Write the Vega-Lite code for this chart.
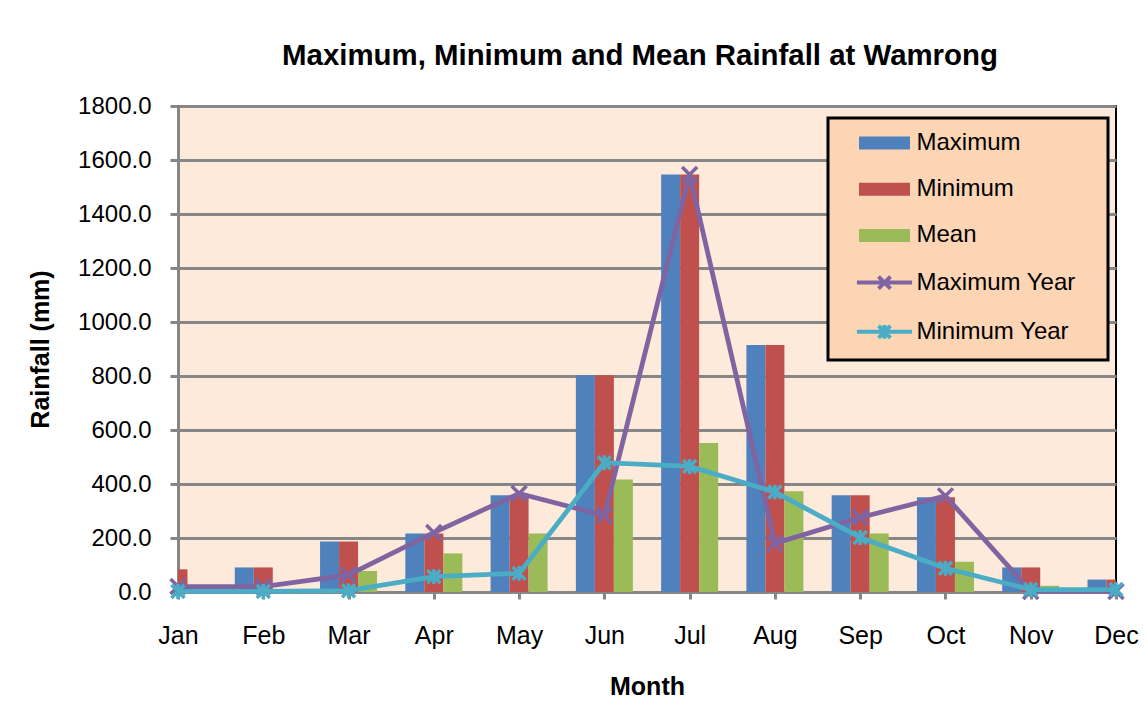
{
  "$schema": "https://vega.github.io/schema/vega-lite/v6.json",
  "width": 938,
  "height": 486,
  "autosize": {"type": "none"},
  "padding": {"left": 178, "top": 106, "right": 32, "bottom": 115},
  "background": "#ffffff",
  "title": {
    "text": "Maximum, Minimum and Mean Rainfall at Wamrong",
    "frame": "group",
    "anchor": "middle",
    "baseline": "alphabetic",
    "offset": 0,
    "dx": -7,
    "font": "Liberation Sans",
    "fontSize": 29.4,
    "fontWeight": "bold",
    "color": "#000000"
  },
  "config": {
    "view": {"fill": "#FDEADA", "stroke": "#000000", "strokeWidth": 2},
    "font": "Liberation Sans",
    "legend": {"strokeWidth": 3}
  },
  "data": {
    "values": [
      {"month": "Jan", "series": "Maximum", "value": 84},
      {"month": "Feb", "series": "Maximum", "value": 91},
      {"month": "Mar", "series": "Maximum", "value": 187},
      {"month": "Apr", "series": "Maximum", "value": 217},
      {"month": "May", "series": "Maximum", "value": 358},
      {"month": "Jun", "series": "Maximum", "value": 803},
      {"month": "Jul", "series": "Maximum", "value": 1546},
      {"month": "Aug", "series": "Maximum", "value": 915},
      {"month": "Sep", "series": "Maximum", "value": 358},
      {"month": "Oct", "series": "Maximum", "value": 351},
      {"month": "Nov", "series": "Maximum", "value": 91},
      {"month": "Dec", "series": "Maximum", "value": 46},
      {"month": "Jan", "series": "Minimum", "value": 84},
      {"month": "Feb", "series": "Minimum", "value": 91},
      {"month": "Mar", "series": "Minimum", "value": 187},
      {"month": "Apr", "series": "Minimum", "value": 217},
      {"month": "May", "series": "Minimum", "value": 358},
      {"month": "Jun", "series": "Minimum", "value": 803},
      {"month": "Jul", "series": "Minimum", "value": 1546},
      {"month": "Aug", "series": "Minimum", "value": 915},
      {"month": "Sep", "series": "Minimum", "value": 358},
      {"month": "Oct", "series": "Minimum", "value": 351},
      {"month": "Nov", "series": "Minimum", "value": 91},
      {"month": "Dec", "series": "Minimum", "value": 46},
      {"month": "Jan", "series": "Mean", "value": 8},
      {"month": "Feb", "series": "Mean", "value": 10},
      {"month": "Mar", "series": "Mean", "value": 78},
      {"month": "Apr", "series": "Mean", "value": 143},
      {"month": "May", "series": "Mean", "value": 217},
      {"month": "Jun", "series": "Mean", "value": 417},
      {"month": "Jul", "series": "Mean", "value": 552},
      {"month": "Aug", "series": "Mean", "value": 373},
      {"month": "Sep", "series": "Mean", "value": 217},
      {"month": "Oct", "series": "Mean", "value": 112},
      {"month": "Nov", "series": "Mean", "value": 23},
      {"month": "Dec", "series": "Mean", "value": 8},
      {"month": "Jan", "series": "Maximum Year", "value": 20},
      {"month": "Feb", "series": "Maximum Year", "value": 20},
      {"month": "Mar", "series": "Maximum Year", "value": 63},
      {"month": "Apr", "series": "Maximum Year", "value": 220},
      {"month": "May", "series": "Maximum Year", "value": 365},
      {"month": "Jun", "series": "Maximum Year", "value": 283},
      {"month": "Jul", "series": "Maximum Year", "value": 1546},
      {"month": "Aug", "series": "Maximum Year", "value": 180},
      {"month": "Sep", "series": "Maximum Year", "value": 276},
      {"month": "Oct", "series": "Maximum Year", "value": 356},
      {"month": "Nov", "series": "Maximum Year", "value": 2},
      {"month": "Dec", "series": "Maximum Year", "value": 2},
      {"month": "Jan", "series": "Minimum Year", "value": 2},
      {"month": "Feb", "series": "Minimum Year", "value": 2},
      {"month": "Mar", "series": "Minimum Year", "value": 5},
      {"month": "Apr", "series": "Minimum Year", "value": 57},
      {"month": "May", "series": "Minimum Year", "value": 69},
      {"month": "Jun", "series": "Minimum Year", "value": 479},
      {"month": "Jul", "series": "Minimum Year", "value": 465},
      {"month": "Aug", "series": "Minimum Year", "value": 370},
      {"month": "Sep", "series": "Minimum Year", "value": 202},
      {"month": "Oct", "series": "Minimum Year", "value": 88},
      {"month": "Nov", "series": "Minimum Year", "value": 9},
      {"month": "Dec", "series": "Minimum Year", "value": 9}
    ]
  },
  "encoding": {
    "x": {
      "field": "month",
      "type": "ordinal",
      "scale": {
        "type": "point",
        "padding": 0,
        "domain": ["Jan", "Feb", "Mar", "Apr", "May", "Jun", "Jul", "Aug", "Sep", "Oct", "Nov", "Dec"]
      },
      "axis": {
        "title": "Month",
        "grid": false,
        "labelAngle": 0,
        "labelOverlap": false,
        "labelFont": "Liberation Sans",
        "labelFontSize": 25,
        "labelColor": "#000000",
        "labelBaseline": "alphabetic",
        "labelPadding": 44,
        "tickSize": 7,
        "tickWidth": 3,
        "tickColor": "#868686",
        "domainColor": "#868686",
        "domainWidth": 3,
        "titleFont": "Liberation Sans",
        "titleFontSize": 25,
        "titleFontWeight": "bold",
        "titleColor": "#000000",
        "titleBaseline": "alphabetic",
        "titleY": 102
      }
    },
    "y": {
      "field": "value",
      "type": "quantitative",
      "scale": {"domain": [0, 1800], "nice": false},
      "axis": {
        "title": "Rainfall (mm)",
        "values": [0, 200, 400, 600, 800, 1000, 1200, 1400, 1600, 1800],
        "format": ".1f",
        "grid": true,
        "gridColor": "#868686",
        "gridWidth": 3,
        "labelFont": "Liberation Sans",
        "labelFontSize": 24,
        "labelColor": "#000000",
        "labelBaseline": "middle",
        "labelPadding": 19,
        "tickSize": 8,
        "tickWidth": 3,
        "tickColor": "#868686",
        "domainColor": "#868686",
        "domainWidth": 3,
        "titleFont": "Liberation Sans",
        "titleFontSize": 25,
        "titleFontWeight": "bold",
        "titleColor": "#000000",
        "titleAngle": 270,
        "titleAlign": "center",
        "titleBaseline": "alphabetic",
        "titleX": -130,
        "titleY": 243
      }
    },
    "color": {
      "field": "series",
      "type": "nominal",
      "scale": {
        "domain": ["Maximum", "Minimum", "Mean", "Maximum Year", "Minimum Year"],
        "range": ["#4F81BD", "#C0504D", "#9BBB59", "#8064A2", "#4BACC6"]
      },
      "legend": {
        "title": null,
        "orient": "none",
        "legendX": 650,
        "legendY": 12,
        "padding": 13,
        "fillColor": "#FCD5B5",
        "strokeColor": "#000000",
        "symbolSize": 144,
        "symbolStrokeWidth": 4,
        "symbolOffset": 31.5,
        "labelOffset": 20,
        "labelFont": "Liberation Sans",
        "labelFontSize": 24,
        "labelColor": "#000000",
        "rowPadding": 20.2
      }
    },
    "shape": {
      "field": "series",
      "type": "nominal",
      "scale": {
        "domain": ["Maximum", "Minimum", "Mean", "Maximum Year", "Minimum Year"],
        "range": [
          "M-4.25,-0.75H4.25M-4.25,-0.25H4.25M-4.25,0.25H4.25M-4.25,0.75H4.25M33.6,0",
          "M-4.25,-0.75H4.25M-4.25,-0.25H4.25M-4.25,0.25H4.25M-4.25,0.75H4.25M33.6,0",
          "M-4.25,-0.75H4.25M-4.25,-0.25H4.25M-4.25,0.25H4.25M-4.25,0.75H4.25M33.6,0",
          "M-4.6,0H4.6M-1,-1L1,1M-1,1L1,-1M33.6,0",
          "M-4.6,0H4.6M-1,-1L1,1M-1,1L1,-1M0,-1.15V1.15M33.6,0"
        ]
      },
      "legend": {
        "title": null,
        "orient": "none",
        "legendX": 650,
        "legendY": 12,
        "padding": 13,
        "fillColor": "#FCD5B5",
        "strokeColor": "#000000",
        "symbolSize": 144,
        "symbolStrokeWidth": 4,
        "symbolOffset": 31.5,
        "labelOffset": 20,
        "labelFont": "Liberation Sans",
        "labelFontSize": 24,
        "labelColor": "#000000",
        "rowPadding": 20.2
      }
    }
  },
  "layer": [
    {
      "data": {
        "values": [
          {"series": "Maximum"},
          {"series": "Minimum"},
          {"series": "Mean"},
          {"series": "Maximum Year"},
          {"series": "Minimum Year"}
        ]
      },
      "mark": {"type": "point", "filled": false, "strokeWidth": 4, "opacity": 1}
    },
    {
      "transform": [{"filter": "datum.series === 'Maximum'"}],
      "mark": {"type": "bar", "width": 19, "xOffset": -19, "clip": true}
    },
    {
      "transform": [{"filter": "datum.series === 'Minimum'"}],
      "mark": {"type": "bar", "width": 19, "xOffset": 0, "clip": true}
    },
    {
      "transform": [{"filter": "datum.series === 'Mean'"}],
      "mark": {"type": "bar", "width": 19, "xOffset": 19, "clip": true}
    },
    {
      "transform": [{"filter": "datum.series === 'Maximum Year'"}],
      "mark": {"type": "line", "strokeWidth": 4.8}
    },
    {
      "transform": [{"filter": "datum.series === 'Maximum Year'"}],
      "mark": {"type": "point", "size": 225, "strokeWidth": 3.5, "filled": false, "opacity": 1},
      "encoding": {"shape": {"value": "M-1,-1L1,1M-1,1L1,-1"}}
    },
    {
      "transform": [{"filter": "datum.series === 'Minimum Year'"}],
      "mark": {"type": "line", "strokeWidth": 4.8}
    },
    {
      "transform": [{"filter": "datum.series === 'Minimum Year'"}],
      "mark": {"type": "point", "size": 169, "strokeWidth": 3.5, "filled": false, "opacity": 1},
      "encoding": {"shape": {"value": "M-1,-1L1,1M-1,1L1,-1M0,-1.15V1.15"}}
    }
  ]
}
